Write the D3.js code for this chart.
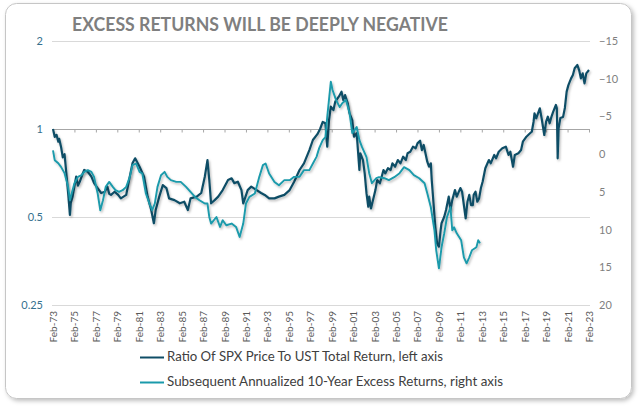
<!DOCTYPE html>
<html>
<head>
<meta charset="utf-8">
<script src="https://cdn.jsdelivr.net/npm/d3@7"></script>
<style>
  html, body { margin: 0; padding: 0; background: #ffffff; }
  svg { display: block; }
  text { font-family: Lato, "Open Sans", "Liberation Sans", sans-serif; }
</style>
</head>
<body>
<svg id="chart" width="640" height="409"></svg>
<script>
// ---------------- DATA ----------------
const chartTitle = "EXCESS RETURNS WILL BE DEEPLY NEGATIVE";
const seriesNames = [
  "Ratio Of SPX Price To UST Total Return, left axis",
  "Subsequent Annualized 10-Year Excess Returns, right axis"
];

// Ratio of SPX price to UST total return (left, log axis): [month, value]
const ratioPoints = [
  ["1973-02",1.00],["1973-04",0.94],["1973-06",0.955],["1973-08",0.905],["1973-09",0.925],
  ["1973-11",0.87],["1974-01",0.80],["1974-03",0.82],["1974-05",0.707],["1974-07",0.604],
  ["1974-09",0.508],["1974-10",0.56],["1974-12",0.587],["1975-04",0.687],["1975-06",0.64],
  ["1975-08",0.660],["1975-11",0.70],["1976-01",0.724],["1976-05",0.714],["1976-09",0.687],
  ["1976-12",0.653],["1977-04",0.628],["1977-08",0.604],["1977-12",0.610],["1978-03",0.635],
  ["1978-05",0.60],["1978-07",0.595],["1978-11",0.610],["1979-03",0.595],["1979-06",0.579],
  ["1979-12",0.595],["1980-04",0.687],["1980-07",0.763],["1980-10",0.794],["1981-03",0.743],
  ["1981-08",0.687],["1981-12",0.587],["1982-04",0.528],["1982-07",0.476],["1982-09",0.528],
  ["1983-01",0.587],["1983-05",0.643],["1983-09",0.628],["1983-12",0.579],["1984-06",0.571],
  ["1984-12",0.557],["1985-05",0.564],["1985-09",0.528],["1985-12",0.579],["1986-07",0.587],
  ["1986-12",0.604],["1987-04",0.687],["1987-07",0.783],["1987-09",0.669],["1987-11",0.557],
  ["1988-03",0.571],["1988-07",0.587],["1988-12",0.618],["1989-06",0.669],["1989-10",0.678],
  ["1990-01",0.653],["1990-05",0.660],["1990-09",0.618],["1990-11",0.557],["1991-04",0.618],
  ["1991-08",0.635],["1992-02",0.618],["1992-07",0.604],["1992-11",0.595],["1993-04",0.579],
  ["1993-10",0.579],["1994-03",0.587],["1994-09",0.595],["1995-03",0.618],["1995-08",0.660],
  ["1996-02",0.724],["1996-07",0.763],["1997-01",0.847],["1997-05",0.917],["1997-10",0.96],
  ["1998-01",1.00],["1998-04",1.057],["1998-07",1.046],["1998-09",0.870],["1998-11",1.073],
  ["1999-01",1.192],["1999-04",1.161],["1999-06",1.240],["1999-10",1.290],["2000-01",1.342],
  ["2000-03",1.257],["2000-05",1.307],["2000-08",1.224],["2000-10",1.131],["2001-01",1.073],
  ["2001-03",0.941],["2001-06",0.967],["2001-09",0.724],["2001-10",0.826],["2002-01",0.783],
  ["2002-03",0.705],["2002-05",0.603],["2002-07",0.542],["2002-08",0.587],["2002-10",0.535],
  ["2003-03",0.618],["2003-05",0.669],["2003-08",0.652],["2003-12",0.724],["2004-02",0.705],
  ["2004-05",0.734],["2004-08",0.724],["2004-10",0.763],["2005-01",0.743],["2005-04",0.783],
  ["2005-07",0.763],["2005-10",0.804],["2006-01",0.783],["2006-03",0.826],["2006-06",0.836],
  ["2006-09",0.870],["2006-12",0.859],["2007-02",0.893],["2007-05",0.912],["2007-07",0.847],
  ["2007-09",0.882],["2008-01",0.773],["2008-03",0.743],["2008-05",0.763],["2008-06",0.669],
  ["2008-08",0.557],["2008-10",0.463],["2008-12",0.406],["2009-02",0.396],["2009-04",0.452],
  ["2009-05",0.476],["2009-08",0.501],["2009-10",0.528],["2010-01",0.587],["2010-03",0.528],
  ["2010-05",0.571],["2010-08",0.618],["2010-10",0.587],["2011-02",0.628],["2011-04",0.61],
  ["2011-08",0.495],["2011-10",0.564],["2011-12",0.595],["2012-02",0.549],["2012-04",0.549],
  ["2012-05",0.595],["2012-07",0.61],["2012-09",0.564],["2012-11",0.579],["2013-01",0.628],
  ["2013-03",0.66],["2013-06",0.734],["2013-10",0.783],["2013-12",0.763],["2014-04",0.815],
  ["2014-06",0.794],["2014-09",0.836],["2015-01",0.859],["2015-05",0.870],["2015-08",0.815],
  ["2015-10",0.836],["2016-01",0.743],["2016-03",0.815],["2016-07",0.826],["2016-10",0.847],
  ["2016-12",0.905],["2017-04",0.941],["2017-08",0.967],["2017-10",0.979],["2017-12",1.059],
  ["2018-01",1.131],["2018-03",1.088],["2018-05",1.131],["2018-07",1.177],["2018-09",1.088],
  ["2018-12",0.954],["2019-02",1.059],["2019-04",1.102],["2019-06",1.046],["2019-08",1.10],
  ["2019-10",1.146],["2020-01",1.208],["2020-02",1.18],["2020-03",0.794],["2020-04",1.006],
  ["2020-06",1.09],["2020-09",1.10],["2020-11",1.18],["2021-01",1.342],["2021-03",1.413],
  ["2021-06",1.49],["2021-08",1.53],["2021-10",1.613],["2022-01",1.655],["2022-03",1.591],
  ["2022-05",1.49],["2022-07",1.55],["2022-09",1.433],["2022-11",1.55],["2023-02",1.591]
];

// Subsequent annualized 10-year excess returns, % (right axis, inverted): [month, value]
const excessPoints = [
  ["1973-02",-0.5],["1973-04",0.8],["1973-08",1.2],["1973-11",1.69],["1974-03",2.52],
  ["1974-07",4.34],["1974-09",6.11],["1974-11",5.18],["1975-02",3.85],["1975-06",3.01],
  ["1975-10",2.79],["1976-01",2.35],["1976-05",2.12],["1976-09",2.35],["1976-12",3.01],
  ["1977-04",5.18],["1977-07",7.44],["1977-10",6.11],["1978-01",4.34],["1978-05",3.68],
  ["1978-09",4.34],["1978-12",4.78],["1979-04",5.01],["1979-08",4.78],["1979-12",4.34],
  ["1980-04",3.01],["1980-07",1.46],["1980-11",1.24],["1981-03",2.35],["1981-06",2.56],
  ["1981-10",5.22],["1982-02",6.55],["1982-05",7.44],["1982-08",6.55],["1982-11",4.34],
  ["1983-03",2.79],["1983-07",2.35],["1983-10",3.01],["1984-02",3.45],["1984-08",3.68],
  ["1985-01",3.68],["1985-07",4.34],["1985-12",5.01],["1986-05",5.67],["1986-10",6.11],
  ["1987-04",6.55],["1987-07",6.55],["1987-09",8.33],["1987-11",9.20],["1988-05",8.33],
  ["1988-09",9.65],["1988-12",8.76],["1989-04",9.43],["1989-10",9.20],["1990-03",9.65],
  ["1990-07",10.98],["1990-11",9.20],["1991-02",6.55],["1991-06",5.67],["1991-12",5.22],
  ["1992-05",3.01],["1992-09",1.46],["1992-12",1.24],["1993-04",2.56],["1993-10",3.68],
  ["1994-03",4.12],["1994-09",3.45],["1995-03",3.45],["1995-08",3.01],["1996-02",3.01],
  ["1996-07",2.12],["1997-01",2.12],["1997-05",1.24],["1997-09",0.36],["1997-12",-0.80],
  ["1998-04",-1.86],["1998-07",-2.26],["1998-09",-4.91],["1999-01",-9.60],["1999-03",-8.50],
  ["1999-07",-7.17],["1999-11",-6.24],["2000-02",-6.77],["2000-06",-7.17],["2000-10",-5.44],
  ["2001-01",-2.79],["2001-06",-3.59],["2001-09",-1.86],["2001-12",-0.93],["2002-05",0.40],
  ["2002-08",2.52],["2002-11",3.85],["2003-04",3.19],["2003-07",3.05],["2004-01",3.19],
  ["2004-06",3.45],["2004-12",3.05],["2005-06",2.52],["2005-11",1.73],["2006-05",2.12],
  ["2006-10",2.79],["2007-04",3.19],["2007-10",3.85],["2008-01",5.18],["2008-05",7.04],
  ["2008-09",10.09],["2008-11",12.75],["2009-02",15.14],["2009-05",12.35],["2009-08",10.49],
  ["2009-11",8.37],["2010-03",7.04],["2010-05",10.09],["2010-07",9.69],["2010-10",10.49],
  ["2011-03",11.42],["2011-06",13.68],["2011-09",14.48],["2011-12",13.68],["2012-03",12.75],
  ["2012-08",12.35],["2012-10",11.42],["2012-12",11.82]
];

const leftTicks = [0.25, 0.5, 1, 2];
const leftTickLabels = ["0.25", "0.5", "1", "2"];
const rightTicks = [-15, -10, -5, 0, 5, 10, 15, 20];
const xTickYears = d3.range(1973, 2024, 2);

// ---------------- CHART ----------------
const svg = d3.select("#chart");
const parse = d3.timeParse("%Y-%m");
const plot = { left: 53, right: 589, top: 41, bottom: 305 };

const defs = svg.append("defs");
const fs = defs.append("filter").attr("id", "frameShadow")
  .attr("x", "-5%").attr("y", "-5%").attr("width", "110%").attr("height", "110%");
fs.append("feDropShadow").attr("dx", 2).attr("dy", 2).attr("stdDeviation", 2)
  .attr("flood-color", "#000").attr("flood-opacity", 0.25);
const ls = defs.append("filter").attr("id", "lineShadow")
  .attr("x", "-5%").attr("y", "-5%").attr("width", "110%").attr("height", "110%");
ls.append("feDropShadow").attr("dx", 1.2).attr("dy", 1.6).attr("stdDeviation", 1)
  .attr("flood-color", "#000").attr("flood-opacity", 0.28);

// frame
svg.append("rect")
  .attr("x", 5.5).attr("y", 3.5).attr("width", 626).attr("height", 395)
  .attr("rx", 11).attr("ry", 11)
  .attr("fill", "#ffffff").attr("stroke", "#c6c6c6").attr("stroke-width", 1)
  .attr("filter", "url(#frameShadow)");

// title
svg.append("text")
  .attr("x", 72).attr("y", 31)
  .attr("textLength", 376).attr("lengthAdjust", "spacingAndGlyphs")
  .attr("font-size", 19).attr("font-weight", "bold")
  .attr("fill", "#7f7f7f")
  .text(chartTitle);

// scales
const x = d3.scaleTime()
  .domain([parse("1973-02"), parse("2023-02")])
  .range([plot.left, plot.right]);
const yL = d3.scaleLog().base(2).domain([0.25, 2]).range([plot.bottom, plot.top]);
const yR = d3.scaleLinear().domain([20, -15]).range([plot.bottom, plot.top]);

// gridlines (left axis)
svg.append("g").selectAll("line")
  .data(leftTicks.filter(d => d !== 1))
  .join("line")
  .attr("x1", plot.left - 1).attr("x2", plot.right + 1)
  .attr("y1", d => Math.round(yL(d)) + 0.5).attr("y2", d => Math.round(yL(d)) + 0.5)
  .attr("stroke", "#d9d9d9").attr("stroke-width", 1);

// left axis
const gL = svg.append("g")
  .attr("transform", `translate(${plot.left - 10},0)`)
  .call(d3.axisLeft(yL).tickValues(leftTicks)
    .tickFormat((d, i) => leftTickLabels[i]).tickSize(0).tickPadding(0));
gL.select(".domain").remove();
gL.selectAll("text").attr("font-size", 11).attr("fill", "#35708e")
  .style("font-family", "Lato, 'Open Sans', sans-serif");

// right axis
const gR = svg.append("g")
  .attr("transform", `translate(${plot.right + 10},0)`)
  .call(d3.axisRight(yR).tickValues(rightTicks).tickSize(0).tickPadding(0));
gR.select(".domain").remove();
gR.selectAll("text").attr("font-size", 11).attr("fill", "#7f7f7f")
  .style("font-family", "Lato, 'Open Sans', sans-serif");

// horizontal axis line crossing at 1 with tick marks
const tickDates = xTickYears.map(y => new Date(y, 1, 1));
const gX = svg.append("g")
  .attr("transform", `translate(0,${Math.round(yL(1)) + 0.5})`)
  .call(d3.axisBottom(x).tickValues(tickDates).tickSize(3).tickFormat(""));
gX.select(".domain").attr("stroke", "#a6a6a6").attr("d", `M${plot.left - 1},0H${plot.right + 1}`);
gX.selectAll(".tick line").attr("stroke", "#a6a6a6");

// x labels at bottom, rotated
const gXL = svg.append("g")
  .attr("transform", `translate(0,${plot.bottom})`)
  .call(d3.axisBottom(x).tickValues(tickDates).tickSize(0).tickFormat(d3.timeFormat("%b-%y")));
gXL.select(".domain").remove();
gXL.selectAll("text")
  .attr("transform", "rotate(-90)")
  .attr("text-anchor", "end")
  .attr("x", -6).attr("y", 0).attr("dy", "0.35em")
  .attr("font-size", 10).attr("fill", "#595959")
  .style("font-family", "Lato, 'Open Sans', sans-serif");

// lines
const ratioData = ratioPoints.map(([d, v]) => ({ date: parse(d), value: v }));
const excessData = excessPoints.map(([d, v]) => ({ date: parse(d), value: v }));

const lineL = d3.line().x(d => x(d.date)).y(d => yL(d.value));
const lineR = d3.line().x(d => x(d.date)).y(d => yR(d.value));

const darkColor = "#0f4d66";
const lightColor = "#1a9aab";

svg.append("path").datum(ratioData)
  .attr("d", lineL).attr("fill", "none")
  .attr("stroke", darkColor).attr("stroke-width", 2.2)
  .attr("stroke-linejoin", "round")
  .attr("filter", "url(#lineShadow)");

svg.append("path").datum(excessData)
  .attr("d", lineR).attr("fill", "none")
  .attr("stroke", lightColor).attr("stroke-width", 1.9)
  .attr("stroke-linejoin", "round")
  .attr("filter", "url(#lineShadow)");

// legend
const legend = svg.append("g");
const legendItems = [
  { name: seriesNames[0], color: darkColor, y: 357, w: 276 },
  { name: seriesNames[1], color: lightColor, y: 382, w: 336 }
];
const li = legend.selectAll("g").data(legendItems).join("g")
  .attr("transform", d => `translate(140,${d.y})`);
li.append("line").attr("x1", 0).attr("x2", 24).attr("y1", 0.5).attr("y2", 0.5)
  .attr("stroke", d => d.color).attr("stroke-width", 2);
li.append("text")
  .attr("x", 27).attr("y", 0).attr("dy", "0.35em")
  .attr("textLength", d => d.w).attr("lengthAdjust", "spacingAndGlyphs")
  .attr("font-size", 12.5).attr("fill", "#404040")
  .text(d => d.name);
</script>
</body>
</html>
